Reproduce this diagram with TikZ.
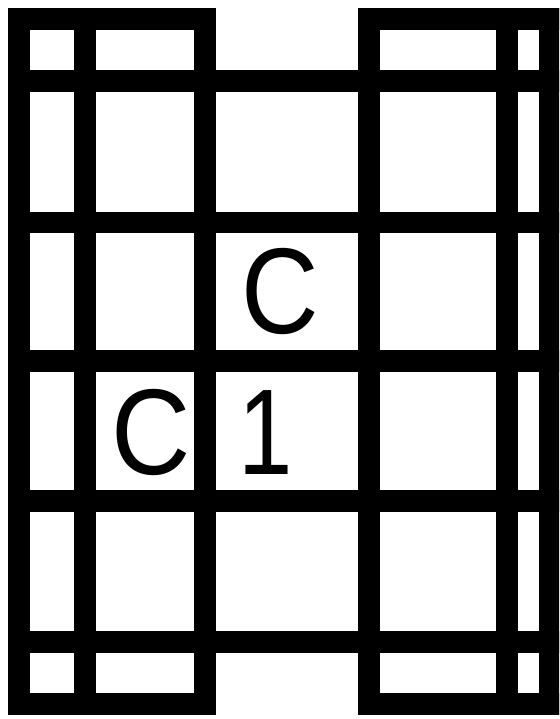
\documentclass[tikz,border=0pt]{standalone}
\usepackage{fontspec}
\setmainfont{Liberation Sans}

\begin{document}
\begin{tikzpicture}[x=1pt, y=-1pt]
    \tikzset{
        bar/.style={draw=black, line width=21.5pt, line cap=rect},
        letter/.style={inner sep=0pt, font=\fontsize{122}{122}\selectfont}
    }
    \clip (0,0) rectangle (559,719);

    % upright bars of the board
    \draw [bar] (19,19) -- (19,704);
    \draw [bar] (85,19) -- (85,704);
    \draw [bar] (205,19) -- (205,704);
    \draw [bar] (369,19) -- (369,704);
    \draw [bar] (507,19) -- (507,704);
    \draw [bar] (550,19) -- (550,704);

    % top and bottom edges, open in the middle
    \draw [bar] (19,19) -- (205,19);
    \draw [bar] (369,19) -- (550,19);
    \draw [bar] (19,704) -- (205,704);
    \draw [bar] (369,704) -- (550,704);

    % cross bars
    \draw [bar] (19,81) -- (550,81);
    \draw [bar] (19,222.5) -- (550,222.5);
    \draw [bar] (19,361) -- (550,361);
    \draw [bar] (19,501) -- (550,501);
    \draw [bar] (19,642) -- (550,642);

    \node [letter] (ctop) at (280,292) {\scalebox{0.88}[1]{C}};
    \node [letter] (one) at (266,433) {\scalebox{0.8}[1]{1}};
    \node [letter] (cleft) at (151,432) {\scalebox{0.9}[1]{C}};
\end{tikzpicture}
\end{document}
